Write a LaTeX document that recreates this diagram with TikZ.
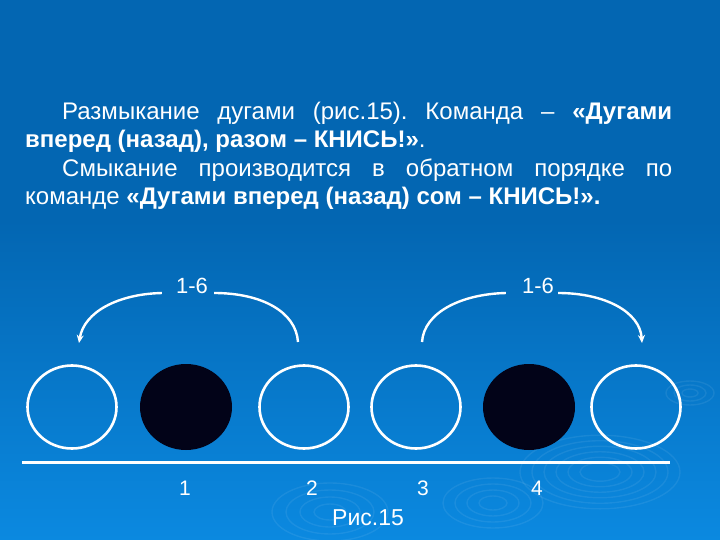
\documentclass[tikz,border=0pt]{standalone}
\usepackage{fontspec}
\setmainfont{Liberation Sans}
\usetikzlibrary{shapes.geometric,arrows.meta}
\frenchspacing
\definecolor{bgtop}{HTML}{0366B2}
\definecolor{bgbot}{HTML}{0B89E0}
\definecolor{ball}{HTML}{020318}
\tikzset{
  txt/.style={inner sep=0pt, text=white, font=\fontsize{24}{28}\selectfont},
  lbl/.style={inner sep=0pt, text=white, font=\fontsize{22}{26}\selectfont, anchor=base},
  num/.style={inner sep=0pt, text=white, font=\fontsize{21}{26}\selectfont, anchor=base},
  ring/.style={ellipse, draw=white, line width=2.6pt, minimum width=89pt, minimum height=83pt, inner sep=0pt},
  ballnode/.style={ellipse, fill=ball, minimum width=92pt, minimum height=86pt, inner sep=0pt},
  arc/.style={draw=white, line width=2.4pt},
  arcarrow/.style={arc, -{Stealth[length=8pt,width=7pt]}},
  ripple/.style={draw=white, draw opacity=0.07, line width=1.4pt},
}
\begin{document}
\begin{tikzpicture}[x=1pt,y=-1pt]
\useasboundingbox (0,0) rectangle (720,540);
\fill[bgtop] (0,0) rectangle (720,221);
\shade[top color=bgtop, bottom color=bgbot] (0,220) rectangle (720,540);
% ripples
\foreach \r in {20,32,44,56,68,80}{\draw[ripple] (600,472) ellipse ({\r} and {\r*0.46});}
\foreach \r in {14,26,38,50}{\draw[ripple] (493,503) ellipse ({\r} and {\r*0.5});}
\foreach \r in {8,16,24}{\draw[ripple] (690,393) ellipse ({\r} and {\r*0.5});}
\foreach \r in {16,30,44,58}{\draw[ripple] (330,512) ellipse ({\r} and {\r*0.5});}
% text
\node[txt, anchor=base west] (t1) at (62,120) {\makebox[610pt][s]{Размыкание дугами (рис.15). Команда – \textbf{«Дугами}}};
\node[txt, anchor=base west] (t2) at (25,148) {\textbf{вперед (назад), разом – КНИСЬ!»}.};
\node[txt, anchor=base west] (t3) at (62,177) {\makebox[610pt][s]{Смыкание производится в обратном порядке по}};
\node[txt, anchor=base west] (t4) at (25,205) {команде \textbf{«Дугами вперед (назад) сом – КНИСЬ!».}};
% circles
\node[ring] (c1) at (72,407) {};
\node[ballnode] (c2) at (186,407) {};
\node[ring] (c3) at (304,407) {};
\node[ring] (c4) at (416,407) {};
\node[ballnode] (c5) at (529,407) {};
\node[ring] (c6) at (636,407) {};
% ground line
\coordinate (g1) at (22,462);
\coordinate (g2) at (670,462);
\draw[white, line width=3pt] (g1) -- (g2);
% labels
\node[lbl] (l1) at (192,293) {1-6};
\node[lbl] (l2) at (538,293) {1-6};
% arc ends
\coordinate (a1) at (79,343);
\coordinate (b1) at (298,342);
\coordinate (a2) at (422,342);
\coordinate (b2) at (642,343);
\draw[arcarrow] ([xshift=-14pt]l1.base west) .. controls (118,294) and (84,312) .. (a1);
\draw[arc] ([xshift=6pt]l1.base east) .. controls (262,293) and (296,312) .. (b1);
\draw[arc] ([xshift=-16pt]l2.base west) .. controls (462,294) and (424,312) .. (a2);
\draw[arcarrow] ([xshift=4pt]l2.base east) .. controls (605,293) and (640,312) .. (b2);
% numbers
\node[num] (n1) at (185,495) {1};
\node[num] (n2) at (312,495) {2};
\node[num] (n3) at (423,495) {3};
\node[num] (n4) at (537,495) {4};
\node[num, font=\fontsize{23}{26}\selectfont] (cap) at (368,525) {Рис.15};
\end{tikzpicture}
\end{document}
